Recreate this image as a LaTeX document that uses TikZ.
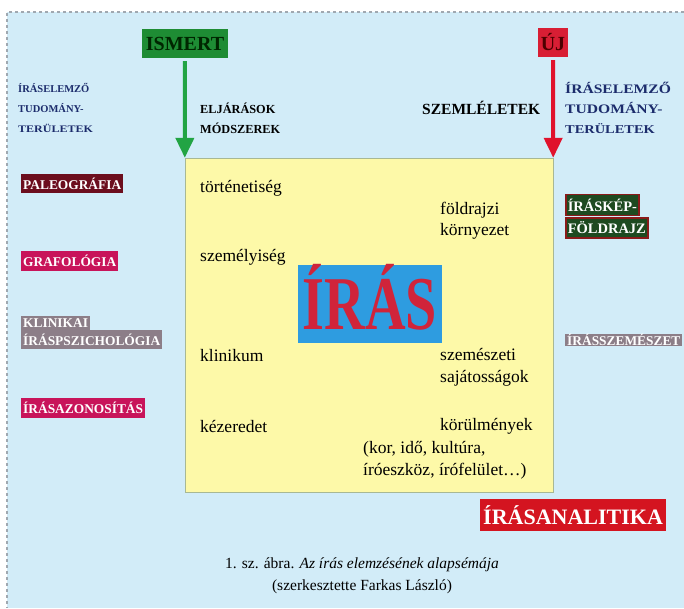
\documentclass[tikz,border=0pt]{standalone}
\usepackage{fontspec}
\setmainfont{Liberation Serif}
\newfontfamily\widefont{Liberation Serif}[FakeStretch=1.2]
\usepackage{graphicx}
\usetikzlibrary{arrows.meta, positioning}
\definecolor{bgblue}{HTML}{D2ECF8}
\definecolor{framegray}{HTML}{A0A8B0}
\definecolor{boxyellow}{HTML}{FDF9A8}
\definecolor{boxrim}{HTML}{A8B894}
\definecolor{irasblue}{HTML}{2E9CE0}
\definecolor{irasred}{HTML}{D0243A}
\definecolor{ismertgreen}{HTML}{1E8C34}
\definecolor{arrowgreen}{HTML}{22A444}
\definecolor{ujred}{HTML}{D81E34}
\definecolor{arrowred}{HTML}{E0122C}
\definecolor{navy}{HTML}{1C2C6C}
\definecolor{maroon}{HTML}{6C0E1E}
\definecolor{crimson}{HTML}{C8145A}
\definecolor{tagGray}{HTML}{8C7E88}
\definecolor{darkgreen}{HTML}{1E4A20}
\definecolor{rimred}{HTML}{8A1A1A}
\definecolor{analred}{HTML}{D41420}
\tikzset{
  word/.style={inner sep=0pt, anchor=west, align=left, font=\fontsize{17.5}{21}\selectfont},
  head/.style={inner sep=0pt, anchor=north west, align=left, text=navy, font=\bfseries\fontsize{10.5}{20}\selectfont},
  tag/.style={anchor=west, inner xsep=2pt, inner ysep=4pt, text=white, font=\bfseries\fontsize{13.4}{15}\selectfont},
  down/.style={-{Triangle[width=18pt,length=20pt]}, line width=4pt, shorten <=3pt}
}

\begin{document}
\begin{tikzpicture}[x=1pt, y=-1pt]
  \tikzset{topbox/.style={inner sep=0pt, minimum height=29pt, font=\bfseries\fontsize{20}{20}\selectfont}};
  \useasboundingbox (0,0) rectangle (684,608);
  \fill[bgblue] (7,12) rectangle (684,608);
  \draw[framegray, dashed, line width=1.2pt] (684,12) -- (7,12) -- (7,608);

  % central field
  \node[fill=boxyellow, draw=boxrim, minimum width=368pt, minimum height=334pt] (box) at (369,325) {};
  \node[fill=irasblue, minimum width=144pt, minimum height=78pt, inner sep=0pt] (iras) at (370,304) {};
  \node[inner sep=0pt, text=irasred, font=\bfseries\fontsize{76}{76}\selectfont] (irastext) at ([yshift=7pt]iras.center) {\scalebox{0.74}[1]{ÍRÁS}};

  \node[word] (tort) at (200,188) {történetiség};
  \node[word] (szem) at (200,257) {személyiség};
  \node[word] (klin) at (200,356) {klinikum};
  \node[word] (kez) at (200,426) {kézeredet};
  \node[word] (fold) at (440,221) {földrajzi\\környezet};
  \node[word, font=\fontsize{17.5}{22}\selectfont] (szemesz) at (440,367) {szemészeti\\sajátosságok};
  \node[word] (korul) at (440,426) {körülmények};
  \node[word, font=\fontsize{17.5}{22}\selectfont] (kor) at (363,460) {(kor, idő, kultúra,\\íróeszköz, írófelület…)};

  % top labels and arrows
  \node[topbox, fill=ismertgreen, text=black!85!green, minimum width=86pt] (ismert) at (185,43.5) {ISMERT};
  \node[topbox, fill=ujred, text=black!70!red, minimum width=30pt] (uj) at (553,42.5) {ÚJ};
  \draw[down, arrowgreen] (ismert.south) -- (box.north west);
  \draw[down, arrowred] (uj.south) -- (box.north east);

  \node[head, font=\bfseries\fontsize{12.3}{20}\selectfont, text=black] (eljar) at (200,103) {ELJÁRÁSOK\\MÓDSZEREK};
  \node[word, font=\bfseries\fontsize{15.5}{15}\selectfont] (szeml) at (422,108) {SZEMLÉLETEK};

  % left column
  \node[head] (bal) at (18,83) {ÍRÁSELEMZŐ\\TUDOMÁNY-\\{\widefont\fontsize{10}{10}\selectfont TERÜLETEK}};
  \node[tag, fill=maroon] (paleo) at (21,183.5) {PALEOGRÁFIA};
  \node[tag, fill=crimson] (graf) at (21,261) {GRAFOLÓGIA};
  \node[tag, fill=tagGray, inner ysep=2.5pt] (klinikai) at (21,323) {KLINIKAI};
  \node[tag, fill=tagGray, inner ysep=3.5pt, anchor=north west] (pszich) at (klinikai.south west) {ÍRÁSPSZICHOLÓGIA};
  \node[tag, fill=crimson] (azon) at (21,408) {ÍRÁSAZONOSÍTÁS};

  % right column
  \node[head, font=\widefont\bfseries\fontsize{13}{20}\selectfont] (jobb) at (565,82) {ÍRÁSELEMZŐ\\TUDOMÁNY-\\{\fontsize{12}{10}\selectfont TERÜLETEK}};
  \node[tag, fill=darkgreen, draw=rimred, line width=1.5pt, font=\bfseries\fontsize{14.5}{15}\selectfont] (kep) at (565,205) {ÍRÁSKÉP-};
  \node[tag, fill=darkgreen, draw=rimred, line width=1.5pt, font=\bfseries\fontsize{14.5}{15}\selectfont, anchor=north west] (foldr) at ([yshift=-1pt]kep.south west) {FÖLDRAJZ};
  \node[tag, fill=tagGray, inner ysep=0.5pt] (szemeszet) at (565,340) {ÍRÁSSZEMÉSZET};

  \node[tag, fill=analred, font=\bfseries\fontsize{22}{22}\selectfont, inner xsep=3pt, inner ysep=6pt] (anal) at (480,515) {ÍRÁSANALITIKA};

  % caption
  \node[align=center, inner sep=0pt, font=\fontsize{15.5}{22}\selectfont] (cap) at (362,576)
    {1. sz. ábra. \textit{Az írás elemzésének alapsémája}\\(szerkesztette Farkas László)};
\end{tikzpicture}
\end{document}
